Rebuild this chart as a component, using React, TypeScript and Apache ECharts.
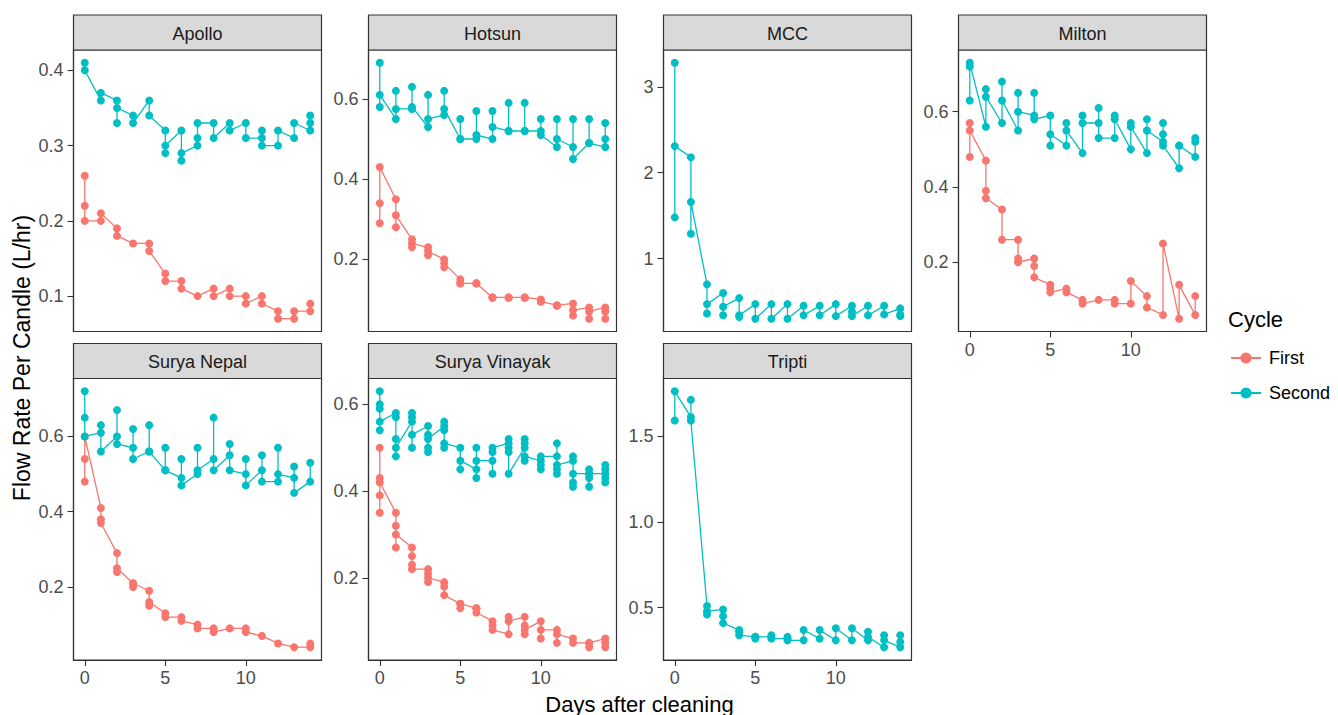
import React, { useEffect, useRef } from "react";
import * as echarts from "echarts";

// ---------- data ----------
const DAYS = [0, 1, 2, 3, 4, 5, 6, 7, 8, 9, 10, 11, 12, 13, 14];
const PANEL_NAMES = ["Apollo", "Hotsun", "MCC", "Milton", "Surya Nepal", "Surya Vinayak", "Tripti"];
const CYCLES = ["First", "Second"];
const CYCLE_COLORS = ["#F8766D", "#00BFC4"];
const X_TICKS = [0, 5, 10];

// values per day (index = day), in the order the line visits them
const apolloFirst = [[0.26, 0.22, 0.2], [0.2, 0.21], [0.19, 0.18], [0.17], [0.17, 0.16], [0.13, 0.12], [0.12, 0.11], [0.1], [0.11, 0.1], [0.11, 0.1], [0.1, 0.09], [0.1, 0.09], [0.08, 0.07], [0.07, 0.08], [0.08, 0.09]];
const apolloSecond = [[0.41, 0.4], [0.36, 0.37], [0.36, 0.33, 0.35], [0.34, 0.33], [0.36, 0.34], [0.32, 0.29, 0.3], [0.32, 0.28, 0.29], [0.3, 0.31, 0.33], [0.33, 0.31], [0.33, 0.32], [0.33, 0.31], [0.31, 0.32, 0.3], [0.3, 0.32], [0.31, 0.33], [0.32, 0.34, 0.33]];

const hotsunFirst = [[0.29, 0.34, 0.43], [0.35, 0.28, 0.31], [0.25, 0.23, 0.24], [0.23, 0.21, 0.22], [0.2, 0.18, 0.19], [0.15, 0.14, 0.14], [0.14, 0.14, 0.14], [0.105, 0.105, 0.105], [0.105, 0.105, 0.105], [0.105, 0.105, 0.105], [0.1, 0.095, 0.095], [0.085, 0.085, 0.085], [0.09, 0.06, 0.073], [0.08, 0.052, 0.07], [0.08, 0.052, 0.07]];
const hotsunSecond = [[0.69, 0.58, 0.61], [0.55, 0.62, 0.575], [0.575, 0.63, 0.58], [0.53, 0.61, 0.55], [0.56, 0.62, 0.575], [0.5, 0.55, 0.5], [0.5, 0.57, 0.51], [0.5, 0.57, 0.53], [0.52, 0.59, 0.52], [0.52, 0.59, 0.52], [0.52, 0.55, 0.51], [0.48, 0.55, 0.5], [0.48, 0.55, 0.45], [0.49, 0.55, 0.49], [0.48, 0.54, 0.5]];

const mccSecond = [[3.28, 1.48, 2.31], [2.18, 1.29, 1.66], [0.7, 0.36, 0.47], [0.6, 0.34, 0.44], [0.54, 0.32, 0.34], [0.47, 0.3], [0.47, 0.3], [0.47, 0.3], [0.45, 0.34], [0.45, 0.34], [0.47, 0.33], [0.45, 0.38, 0.33], [0.45, 0.34], [0.45, 0.35], [0.42, 0.35, 0.33]];

const miltonFirst = [[0.48, 0.57, 0.55], [0.47, 0.39, 0.37], [0.34, 0.26], [0.26, 0.21, 0.2], [0.21, 0.19, 0.16], [0.14, 0.13, 0.12], [0.13, 0.12], [0.1, 0.09], [0.1], [0.1, 0.09], [0.09, 0.15], [0.11, 0.08], [0.06, 0.25], [0.05, 0.14], [0.06, 0.11]];
const miltonSecond = [[0.63, 0.72, 0.73], [0.56, 0.66, 0.64], [0.57, 0.68, 0.63], [0.55, 0.65, 0.6], [0.59, 0.65, 0.58], [0.59, 0.51, 0.54], [0.51, 0.57, 0.55], [0.49, 0.59, 0.57], [0.57, 0.61, 0.53], [0.53, 0.59, 0.58], [0.5, 0.57, 0.56], [0.49, 0.58, 0.55], [0.52, 0.57, 0.54, 0.51], [0.45, 0.51, 0.51], [0.48, 0.53, 0.52]];

const nepalFirst = [[0.48, 0.54, 0.6], [0.41, 0.38, 0.37], [0.29, 0.24, 0.25], [0.21, 0.2, 0.21], [0.19, 0.15, 0.16], [0.13, 0.12], [0.12, 0.11], [0.1, 0.09], [0.09, 0.08], [0.09], [0.09, 0.08], [0.07], [0.05], [0.04], [0.04, 0.05]];
const nepalSecond = [[0.72, 0.65, 0.6], [0.61, 0.63, 0.56], [0.6, 0.67, 0.58], [0.57, 0.62, 0.54], [0.56, 0.63, 0.56], [0.51, 0.57, 0.51], [0.49, 0.54, 0.47], [0.5, 0.57, 0.51], [0.54, 0.65, 0.51], [0.55, 0.58, 0.51], [0.5, 0.54, 0.47], [0.51, 0.55, 0.48], [0.48, 0.57, 0.5], [0.49, 0.52, 0.45], [0.48, 0.53]];

const vinayakFirst = [[0.5, 0.35, 0.39, 0.43, 0.42], [0.35, 0.27, 0.32, 0.3], [0.27, 0.25, 0.23, 0.22], [0.22, 0.21, 0.19, 0.2], [0.19, 0.18, 0.16], [0.14, 0.13, 0.14], [0.13, 0.13, 0.12], [0.1, 0.09, 0.08], [0.07, 0.11, 0.1], [0.11, 0.07, 0.09, 0.08], [0.1, 0.06, 0.08], [0.08, 0.05, 0.07], [0.06, 0.05], [0.05, 0.04, 0.05], [0.06, 0.04, 0.05]];
const vinayakSecond = [[0.63, 0.6, 0.59, 0.54, 0.56], [0.58, 0.57, 0.48, 0.52, 0.5], [0.56, 0.58, 0.57, 0.5, 0.53], [0.55, 0.49, 0.5, 0.53, 0.52], [0.55, 0.56, 0.54, 0.5, 0.51], [0.5, 0.45, 0.47], [0.45, 0.5, 0.43, 0.47], [0.47, 0.44, 0.49, 0.5], [0.51, 0.52, 0.5, 0.49, 0.44], [0.5, 0.52, 0.51, 0.47, 0.48], [0.47, 0.45, 0.46, 0.48], [0.48, 0.51, 0.44, 0.45, 0.46], [0.47, 0.48, 0.42, 0.41, 0.44], [0.44, 0.41, 0.43, 0.45, 0.44], [0.44, 0.46, 0.45, 0.43, 0.42]];

const triptiSecond = [[1.59, 1.76], [1.61, 1.71, 1.59], [0.51, 0.46, 0.48], [0.49, 0.45, 0.41], [0.37, 0.36, 0.34], [0.33, 0.32, 0.33], [0.33, 0.34, 0.32], [0.32, 0.33, 0.31], [0.31, 0.37], [0.32, 0.37], [0.31, 0.38], [0.31, 0.38], [0.31, 0.36, 0.33], [0.27, 0.34, 0.31], [0.27, 0.3, 0.34]];

const PANEL_DATA = [
  [apolloFirst, apolloSecond],
  [hotsunFirst, hotsunSecond],
  [null, mccSecond],
  [miltonFirst, miltonSecond],
  [nepalFirst, nepalSecond],
  [vinayakFirst, vinayakSecond],
  [null, triptiSecond],
];

const Y_TICKS = [
  [0.1, 0.2, 0.3, 0.4],
  [0.2, 0.4, 0.6],
  [1, 2, 3],
  [0.2, 0.4, 0.6],
  [0.2, 0.4, 0.6],
  [0.2, 0.4, 0.6],
  [0.5, 1.0, 1.5],
];
const Y_DECIMALS = [1, 1, 0, 1, 1, 1, 1];

const X_TITLE = "Days after cleaning";
const Y_TITLE = "Flow Rate Per Candle (L/hr)";
const LEGEND_TITLE = "Cycle";

// ---------- layout ----------
const FONT = "'Liberation Sans', Arial, sans-serif";
const COL_LEFT = [73.5, 368.5, 663.5, 958.5];
const ROW_TOP = [15, 343.5];
const PANEL_W = 248;
const STRIP_H = 35;
const PLOT_H = 281.5;
const X_MIN = -0.7;
const X_MAX = 14.7;

function toPairs(vals: number[][]) {
  const out: number[][] = [];
  DAYS.forEach((d, i) => {
    (vals[i] || []).forEach((v) => out.push([d, v]));
  });
  return out;
}

function buildOption() {
  const grids: any[] = [];
  const xAxes: any[] = [];
  const yAxes: any[] = [];
  const series: any[] = [];
  const graphics: any[] = [];

  PANEL_NAMES.forEach((name, i) => {
    const row = Math.floor(i / 4);
    const col = i % 4;
    const left = COL_LEFT[col];
    const stripTop = ROW_TOP[row];
    const plotTop = stripTop + STRIP_H;
    const showX = i >= 3;

    const all: number[] = [];
    PANEL_DATA[i].forEach((c) => c && c.forEach((d) => d.forEach((v) => all.push(v))));
    const lo = Math.min(...all);
    const hi = Math.max(...all);
    const pad = (hi - lo) * 0.05;

    grids.push({
      left,
      top: plotTop,
      width: PANEL_W,
      height: PLOT_H,
      show: true,
      borderColor: "#333333",
      borderWidth: 1.2,
      backgroundColor: "#ffffff",
      containLabel: false,
    });

    xAxes.push({
      type: "value",
      gridIndex: i,
      min: X_MIN,
      max: X_MAX,
      axisLine: { show: true, onZero: false, lineStyle: { color: "#333333", width: 1.2 } },
      axisTick: { show: showX, customValues: X_TICKS, length: 6, lineStyle: { color: "#333333", width: 1.1 } },
      axisLabel: {
        show: showX,
        customValues: X_TICKS,
        margin: 9,
        fontSize: 18,
        fontFamily: FONT,
        color: "#4D4D4D",
        formatter: (v: number) => String(v),
      },
      splitLine: { show: false },
    });

    yAxes.push({
      type: "value",
      gridIndex: i,
      min: lo - pad,
      max: hi + pad,
      axisLine: { show: true, onZero: false, lineStyle: { color: "#333333", width: 1.2 } },
      axisTick: { show: true, customValues: Y_TICKS[i], length: 6, lineStyle: { color: "#333333", width: 1.1 } },
      axisLabel: {
        show: true,
        customValues: Y_TICKS[i],
        margin: 10,
        fontSize: 18,
        fontFamily: FONT,
        color: "#4D4D4D",
        formatter: ((dec: number) => (v: number) => v.toFixed(dec))(Y_DECIMALS[i]),
      },
      splitLine: { show: false },
    });

    PANEL_DATA[i].forEach((c, ci) => {
      if (!c) return;
      series.push({
        type: "line",
        name: CYCLES[ci],
        xAxisIndex: i,
        yAxisIndex: i,
        data: toPairs(c),
        symbol: "circle",
        symbolSize: 8,
        showSymbol: true,
        color: CYCLE_COLORS[ci],
        lineStyle: { width: 1.3, color: CYCLE_COLORS[ci] },
        itemStyle: { color: CYCLE_COLORS[ci] },
        emphasis: { disabled: true },
        z: 2 + ci,
      });
    });

    graphics.push({
      type: "rect",
      shape: { x: left, y: stripTop, width: PANEL_W, height: STRIP_H },
      style: { fill: "#D9D9D9", stroke: "#333333", lineWidth: 1.2 },
    });
    graphics.push({
      type: "text",
      x: left + PANEL_W / 2,
      y: stripTop + STRIP_H / 2 + 1,
      style: {
        text: name,
        align: "center",
        verticalAlign: "middle",
        fontSize: 18,
        fontFamily: FONT,
        fill: "#1A1A1A",
      },
    });
  });

  graphics.push({
    type: "text",
    x: 639.5,
    y: 704,
    style: { text: X_TITLE, align: "center", verticalAlign: "middle", fontSize: 22, fontFamily: FONT, fill: "#000000" },
  });
  graphics.push({
    type: "text",
    x: 22,
    y: 358,
    rotation: Math.PI / 2,
    style: { text: Y_TITLE, align: "center", verticalAlign: "middle", fontSize: 23, fontFamily: FONT, fill: "#000000" },
  });
  graphics.push({
    type: "text",
    x: 1228,
    y: 319,
    style: { text: LEGEND_TITLE, align: "left", verticalAlign: "middle", fontSize: 22, fontFamily: FONT, fill: "#000000" },
  });

  return {
    animation: false,
    backgroundColor: "#ffffff",
    grid: grids,
    xAxis: xAxes,
    yAxis: yAxes,
    series,
    legend: {
      data: CYCLES,
      orient: "vertical",
      left: 1225,
      top: 344,
      padding: 5,
      itemWidth: 30,
      itemHeight: 14,
      itemGap: 17,
      selectedMode: false,
      textStyle: { fontSize: 18, fontFamily: FONT, color: "#000000", padding: [0, 0, 0, 3] },
    },
    graphic: graphics,
  };
}

export default function App() {
  const ref = useRef<HTMLDivElement>(null);
  useEffect(() => {
    if (!ref.current) return;
    const chart = echarts.init(ref.current, undefined, { renderer: "svg" });
    chart.setOption(buildOption() as any);
    return () => chart.dispose();
  }, []);
  return (
    <div
      ref={ref}
      style={{ position: "fixed", left: 0, top: 0, width: 1338, height: 715, background: "#fff" }}
    />
  );
}
